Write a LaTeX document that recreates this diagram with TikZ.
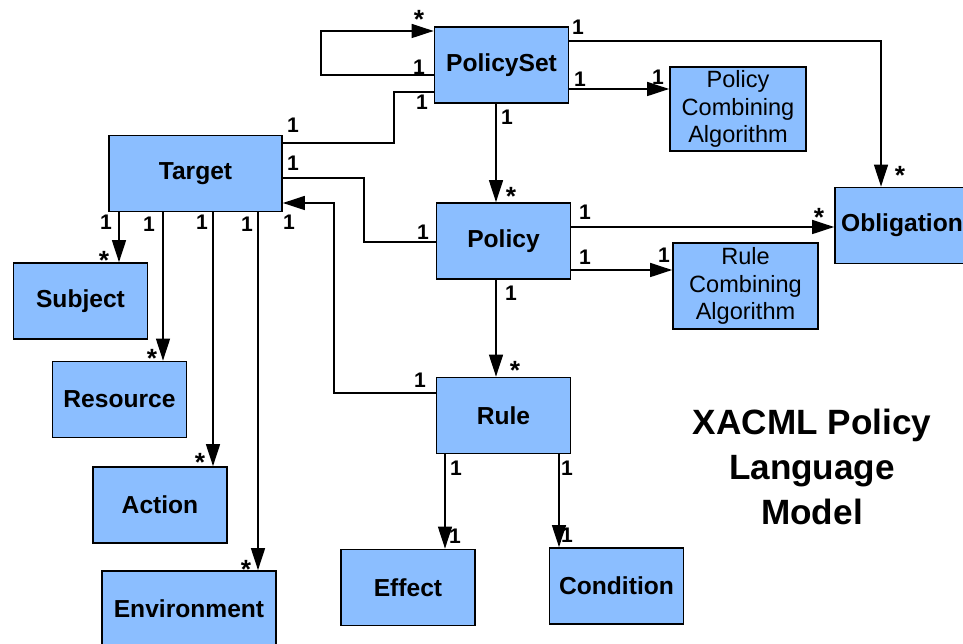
\documentclass[tikz,border=0pt]{standalone}
\usepackage{fontspec}
\setmainfont{Liberation Sans}
\usetikzlibrary{arrows.meta}
\definecolor{boxblue}{RGB}{139,190,255}
\begin{document}
\begin{tikzpicture}[x=0.02cm, y=-0.02cm, >={Triangle[length=0.44cm,width=0.28cm]}, line width=0.8pt,
  box/.style={draw, fill=boxblue, line width=1pt, minimum width=2.68cm, minimum height=1.52cm, inner sep=1pt, font=\fontsize{14}{16}\selectfont\bfseries},
  algo/.style={box, align=center, font=\fontsize{13.4}{15.5}\selectfont},
  mult/.style={inner sep=0pt, font=\fontsize{12}{14}\selectfont\bfseries},
  many/.style={mult, font=\fontsize{15}{17}\selectfont\bfseries},
  ttl/.style={align=center, font=\fontsize{20}{25.6}\selectfont\bfseries}]
\useasboundingbox (0,0) rectangle (963,644);
\node[box] (pset) at (501.5,65) {PolicySet};
\node[algo, minimum width=2.72cm, minimum height=1.68cm] (pca) at (738,109) {Policy\\Combining\\Algorithm};
\node[box] (oblig) at (902,225.5) {Obligation};
\node[box, minimum width=3.46cm] (target) at (195.5,173.5) {Target};
\node[box] (subject) at (80.5,301) {Subject};
\node[box] (resource) at (119.5,399.5) {Resource};
\node[box] (action) at (160,505) {Action};
\node[box, minimum width=3.48cm] (env) at (189,609) {Environment};
\node[box] (policy) at (503.5,241) {Policy};
\node[box] (rule) at (503.5,415.5) {Rule};
\node[box] (effect) at (408,587.5) {Effect};
\node[box] (cond) at (616.5,586) {Condition};
\node[algo, minimum width=2.9cm, minimum height=1.72cm] (rca) at (745.5,286) {Rule\\Combining\\Algorithm};
\node[ttl] (title) at (812,467) {XACML Policy\\Language\\Model};

% PolicySet links
\draw[->] (pset.west |- 0,75) -- (321,75) -- (321,31) -- (pset.west |- 0,31);
\draw (pset.west |- 0,92) -- (394,92) -- (394,143) -- (target.east |- 0,143);
\draw[->] (pset.east |- 0,41) -| (oblig.north -| 881,0);
\draw[->] (pset.east |- 0,89) -- (pca.west |- 0,89);
\draw[->] (pset.south -| 496,0) -- (policy.north -| 496,0);
\node[many] (m1) at (419,19) {*};
\node[mult] (m2) at (419,67) {1};
\node[mult] (m3) at (422,102) {1};
\node[mult] (m4) at (578,27) {1};
\node[many] (m5) at (900,175) {*};
\node[mult] (m6) at (580,79) {1};
\node[mult] (m7) at (658,77) {1};
\node[mult] (m8) at (507,117) {1};
\node[many] (m9) at (511,196) {*};
\node[mult] (m10) at (293,125) {1};

% Target links
\draw (target.east |- 0,178) -- (364,178) -- (364,242) -- (policy.west |- 0,242);
\draw[->] (rule.west |- 0,393) -- (334,393) -- (334,203) -- (target.east |- 0,203);
\draw[->] (target.south -| 119,0) -- (subject.north -| 119,0);
\draw[->] (target.south -| 163,0) -- (resource.north -| 163,0);
\draw[->] (target.south -| 213,0) -- (action.north -| 213,0);
\draw[->] (target.south -| 258,0) -- (env.north -| 258,0);
\node[mult] (m11) at (293,163) {1};
\node[mult] (m12) at (423,232) {1};
\node[mult] (m13) at (420,380) {1};
\node[mult] (m14) at (289,222) {1};
\node[mult] (m15) at (106,222) {1};
\node[mult] (m16) at (149,224) {1};
\node[mult] (m17) at (202,222) {1};
\node[mult] (m18) at (247,224) {1};
\node[many] (m19) at (104,260) {*};
\node[many] (m20) at (152,358) {*};
\node[many] (m21) at (200,462) {*};
\node[many] (m22) at (246,569) {*};

% Policy and Rule links
\draw[->] (policy.east |- 0,227) -- (oblig.west |- 0,227);
\draw[->] (policy.east |- 0,270) -- (rca.west |- 0,270);
\draw[->] (policy.south -| 496,0) -- (rule.north -| 496,0);
\draw[->] (rule.south -| 445,0) -- (effect.north -| 445,0);
\draw[->] (rule.south -| 559,0) -- (cond.north -| 559,0);
\node[mult] (m23) at (585,212) {1};
\node[many] (m24) at (819,217) {*};
\node[mult] (m25) at (585,257) {1};
\node[mult] (m26) at (664,255) {1};
\node[mult] (m27) at (511,293) {1};
\node[many] (m28) at (515,370) {*};
\node[mult] (m29) at (456,468) {1};
\node[mult] (m30) at (567,468) {1};
\node[mult] (m31) at (455,536) {1};
\node[mult] (m32) at (567,535) {1};

\end{tikzpicture}
\end{document}
